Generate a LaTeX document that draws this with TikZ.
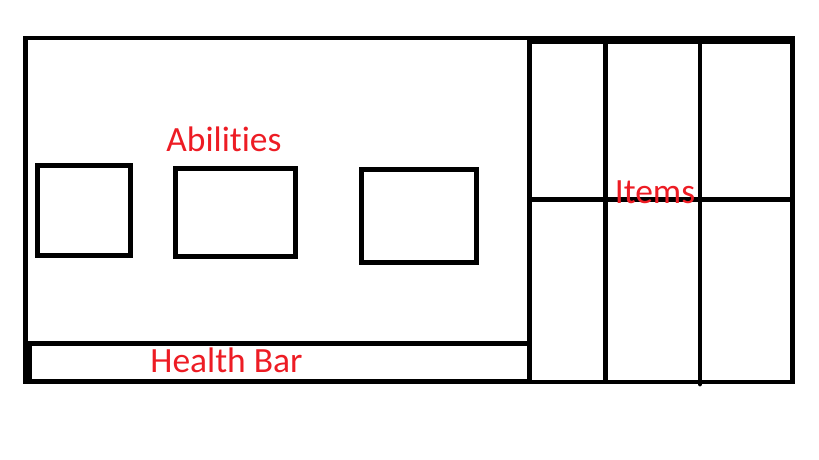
\documentclass[tikz,border=0pt]{standalone}
\usepackage{fontspec}
\setmainfont{Carlito}[Ligatures=CommonOff]
\usepackage{xcolor}
\usetikzlibrary{positioning}
\definecolor{uired}{HTML}{ED1C24}
\definecolor{uiblack}{HTML}{000000}
\tikzset{
  frame/.style={draw=uiblack, line width=2.8pt},
  slot/.style={draw=uiblack, line width=2.6pt},
  tag/.style={text=uired, inner sep=0pt, anchor=base, font=\fontsize{20.2}{24}\selectfont}
}

\begin{document}
\begin{tikzpicture}[x=0.02cm, y=-0.02cm]
  \useasboundingbox (0,0) rectangle (819,460);

  % outer frame
  \draw[frame] (25.5,38) rectangle (792.5,382);

  % ability slots
  \draw[slot] (37.5,165.5) rectangle (130.5,255.5);
  \draw[slot] (175.5,168.5) rectangle (295.5,256.5);
  \draw[slot] (361.5,169.5) rectangle (476.5,262.5);

  % health bar
  \draw[frame] (30,343.5) rectangle (529.5,381);

  % item grid
  \draw[frame] (529.5,382) -- (529.5,42) -- (792.5,42);
  \draw[frame] (529.5,199.5) -- (792.5,199.5);
  \draw[frame] (605.5,42) -- (605.5,382);
  \draw[frame, line cap=round] (700,42) -- (700,384);

  \node[tag] (abilities) at (224,151) {Abilities};
  \node[tag] (items) at (655,203) {Items};
  \node[tag] (health) at (226.5,372) {Health Bar};
\end{tikzpicture}
\end{document}
